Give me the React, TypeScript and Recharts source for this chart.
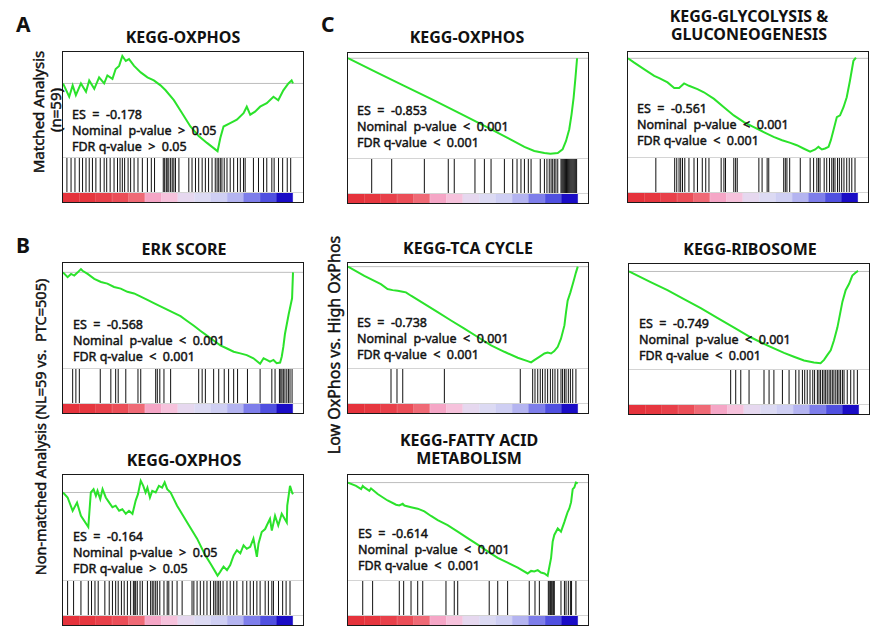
import React from 'react';
import {
  LineChart,
  Line,
  XAxis,
  YAxis,
  ReferenceLine,
  ScatterChart,
  Scatter,
  BarChart,
  Bar,
  Cell,
} from 'recharts';

// ---------- data (rank position in % of ranked list, running enrichment score) ----------

// A: Matched analysis, KEGG-OXPHOS
const aRank = [0, 2.7, 4.2, 5.6, 7.8, 10.0, 11.4, 13.6, 15.7, 17.9, 19.3, 21.5, 22.9, 24.4, 25.8, 27.3, 28.7, 30.9, 33.8, 36.7, 39.5, 42.4, 44.6, 48.2, 51.8, 55.4, 59.0, 62.6, 66.2, 67.2, 68.4, 69.8, 72.7, 75.6, 78.5, 79.9, 81.4, 83.5, 85.7, 88.6, 91.5, 93.6, 95.8, 98.0, 99.4, 100];
const aES = [0, -0.035, -0.005, -0.031, 0, -0.022, 0.008, -0.014, 0.016, 0, 0.021, 0.012, 0.038, 0.046, 0.072, 0.059, 0.064, 0.046, 0.029, 0.016, 0.008, -0.005, -0.018, -0.044, -0.078, -0.113, -0.138, -0.156, -0.173, -0.178, -0.143, -0.113, -0.104, -0.095, -0.078, -0.061, -0.082, -0.074, -0.061, -0.052, -0.035, -0.044, -0.018, 0, 0.008, 0];
const aHits = [1.7, 3.5, 5.2, 7.1, 8.5, 10.0, 11.4, 12.8, 14.3, 16.2, 17.9, 19.0, 20.5, 22.2, 23.7, 24.8, 25.8, 26.8, 28.3, 29.4, 30.9, 32.6, 34.5, 36.7, 38.4, 39.8, 43.6, 44.2, 44.9, 45.3, 46.0, 46.8, 47.5, 48.2, 48.9, 50.4, 54.7, 56.1, 57.6, 59.0, 60.5, 61.9, 63.3, 64.8, 66.2, 67.0, 67.7, 68.4, 69.1, 70.1, 71.3, 72.7, 74.2, 75.9, 77.1, 78.5, 79.2, 82.8, 85.0, 87.2, 88.6, 90.8, 91.8, 93.7, 95.5, 97.5, 99.0];

// B: ERK SCORE
const erkRank = [0, 2.0, 3.5, 4.9, 6.4, 7.8, 8.5, 10.7, 13.6, 16.5, 19.3, 22.2, 25.1, 28.0, 30.9, 33.8, 36.7, 39.5, 42.4, 45.3, 48.2, 51.1, 54.0, 56.9, 59.7, 62.6, 65.5, 68.4, 71.3, 74.2, 77.1, 79.9, 82.8, 85.7, 87.2, 88.6, 90.0, 91.5, 92.9, 94.4, 95.1, 95.8, 96.5, 97.3, 98.1, 99.0, 99.6, 100];
const erkES = [0, -0.030, -0.010, -0.020, 0, 0.020, 0.010, -0.010, -0.040, -0.060, -0.070, -0.091, -0.101, -0.121, -0.131, -0.151, -0.171, -0.191, -0.211, -0.232, -0.252, -0.272, -0.302, -0.332, -0.363, -0.393, -0.423, -0.453, -0.473, -0.493, -0.503, -0.514, -0.534, -0.568, -0.534, -0.544, -0.554, -0.544, -0.564, -0.560, -0.524, -0.463, -0.383, -0.322, -0.262, -0.201, -0.161, 0];
const erkHits = [4.2, 5.6, 7.1, 16.2, 20.8, 22.9, 24.0, 27.3, 32.6, 33.8, 40.3, 41.0, 42.1, 43.9, 46.8, 59.0, 60.5, 61.9, 65.5, 67.7, 70.1, 72.0, 74.2, 75.9, 80.2, 85.7, 90.8, 92.2, 94.1, 94.7, 95.2, 95.8, 96.5, 97.3, 98.0, 98.7, 99.6];

// B: Non-matched, KEGG-OXPHOS
const bRank = [0, 2.0, 4.2, 6.1, 7.8, 11.0, 12.1, 13.3, 14.3, 15.0, 16.2, 17.2, 18.6, 20.1, 21.5, 22.9, 24.4, 25.8, 27.3, 28.7, 30.2, 30.9, 31.6, 32.6, 33.8, 34.9, 35.9, 36.7, 37.8, 38.8, 40.3, 41.7, 43.1, 44.2, 45.3, 46.8, 49.6, 54.0, 58.3, 61.9, 64.1, 66.2, 67.2, 68.4, 69.8, 71.3, 72.7, 74.2, 75.6, 77.1, 78.5, 79.9, 81.4, 82.8, 84.3, 85.0, 86.4, 87.9, 88.6, 90.0, 90.8, 92.2, 93.6, 95.1, 97.3, 97.5, 98.1, 98.7, 99.6, 100];
const bES = [0, -0.0098, -0.036, -0.020, -0.046, -0.068, 0, 0.0065, -0.0065, 0.0033, -0.013, 0.0065, -0.0098, -0.020, -0.029, -0.026, -0.036, -0.033, -0.042, -0.036, -0.042, -0.029, -0.016, -0.0033, 0.023, 0.013, 0, 0.0098, -0.0098, 0.0033, 0, 0.013, 0.0098, 0.020, 0.0065, 0, -0.026, -0.059, -0.091, -0.124, -0.140, -0.156, -0.164, -0.156, -0.146, -0.153, -0.143, -0.124, -0.114, -0.120, -0.104, -0.111, -0.107, -0.091, -0.127, -0.101, -0.078, -0.072, -0.065, -0.052, -0.075, -0.046, -0.065, -0.042, -0.059, -0.026, -0.0065, 0.013, 0, -0.0033];
const bHits = [2.0, 4.6, 7.8, 11.0, 12.4, 13.9, 15.3, 18.2, 20.1, 21.5, 22.9, 24.0, 25.4, 26.6, 28.0, 29.4, 30.6, 31.2, 31.6, 32.3, 33.5, 34.5, 36.7, 38.1, 38.8, 39.5, 40.3, 41.0, 42.1, 43.9, 45.3, 46.0, 47.5, 49.6, 51.8, 56.1, 56.9, 58.3, 59.7, 61.2, 62.6, 64.1, 65.5, 66.2, 67.0, 67.7, 68.4, 69.6, 71.3, 72.7, 74.2, 75.6, 78.2, 79.9, 81.4, 82.8, 84.3, 85.7, 87.9, 89.3, 90.8, 91.5, 93.7, 95.5, 97.0, 98.7];

// C: KEGG-OXPHOS
const cOxRank = [0, 12, 24, 36.1, 48, 60, 70, 76.7, 81.0, 85.4, 88.0, 91.2, 93.3, 94.8, 96.2, 97.2, 98.1, 98.9, 99.6];
const cOxES = [0, -0.122, -0.243, -0.364, -0.487, -0.612, -0.718, -0.793, -0.829, -0.847, -0.853, -0.847, -0.814, -0.740, -0.635, -0.501, -0.352, -0.173, 0];
const cOxHits = [10.3, 19.0, 33.2, 43.6, 46.2, 55.2, 59.3, 62.2, 68.0, 71.6, 73.5, 75.2, 76.7, 78.4, 79.6, 83.6, 85.4, 86.5, 87.5, 88.3, 89.0, 89.7, 90.4, 91.2, 92.6, 93.0, 93.4, 93.8, 94.2, 94.6, 95.0, 95.4, 95.8, 96.2, 96.6, 97.0, 97.4, 97.8, 98.2, 98.6, 99.0, 99.4];

// C: KEGG-GLYCOLYSIS & GLUCONEOGENESIS
const glyRank = [0, 2.7, 7.1, 11.4, 13.6, 17.2, 20.1, 22.2, 24.4, 26.5, 30.2, 33.0, 37.4, 41.7, 46.0, 50.4, 54.7, 59.0, 63.3, 67.0, 70.6, 73.4, 76.3, 79.2, 81.4, 82.8, 84.3, 85.7, 87.2, 88.2, 89.3, 90.8, 92.2, 93.7, 95.1, 96.5, 98.0, 99.1];
const glyES = [0, -0.026, -0.066, -0.105, -0.119, -0.145, -0.179, -0.179, -0.151, -0.165, -0.185, -0.204, -0.244, -0.294, -0.343, -0.383, -0.413, -0.443, -0.472, -0.492, -0.508, -0.522, -0.542, -0.561, -0.548, -0.532, -0.548, -0.542, -0.532, -0.492, -0.433, -0.353, -0.343, -0.294, -0.234, -0.135, -0.016, 0.004];
const glyHits = [12.1, 20.3, 21.2, 22.2, 22.9, 23.7, 24.7, 26.5, 28.7, 30.2, 32.3, 33.8, 35.2, 40.5, 41.7, 42.4, 46.0, 46.8, 47.5, 56.9, 58.3, 60.5, 61.2, 67.7, 68.4, 69.1, 70.3, 74.9, 79.2, 80.7, 82.1, 82.8, 83.5, 85.3, 86.4, 87.6, 88.6, 89.3, 90.0, 91.1, 91.9, 92.9, 93.9, 95.1, 96.2, 97.3, 98.7];

// C: KEGG-TCA CYCLE
const tcaRank = [0, 7.1, 14.3, 17.2, 19.4, 21.6, 23.8, 25.2, 27.4, 33.2, 39.0, 44.8, 50.6, 56.4, 62.2, 68.0, 73.8, 78.1, 79.6, 81.0, 83.2, 85.4, 86.8, 88.3, 89.7, 91.2, 92.6, 94.1, 94.8, 95.5, 96.7, 97.7, 98.4, 99.1, 99.9];
const tcaES = [0, -0.071, -0.135, -0.173, -0.181, -0.186, -0.193, -0.198, -0.224, -0.287, -0.351, -0.415, -0.478, -0.542, -0.606, -0.656, -0.702, -0.728, -0.738, -0.720, -0.695, -0.669, -0.662, -0.669, -0.651, -0.618, -0.555, -0.453, -0.351, -0.262, -0.198, -0.135, -0.092, -0.046, 0];
const tcaHits = [18.7, 21.3, 23.8, 41.9, 74.9, 80.3, 81.3, 82.5, 83.6, 84.6, 85.7, 86.8, 88.0, 89.0, 90.0, 91.2, 92.6, 93.3, 94.1, 94.8, 95.8, 96.7, 97.7, 99.1];

// C: KEGG-RIBOSOME
const riboRank = [0, 9.4, 16.7, 23.9, 31.2, 38.4, 45.7, 52.9, 60.1, 67.4, 71.7, 76.1, 80.4, 83.3, 84.8, 86.2, 87.7, 89.1, 90.6, 91.7, 92.8, 94.2, 95.7, 97.1, 98.6, 99.6];
const riboES = [0, -0.087, -0.153, -0.225, -0.299, -0.378, -0.458, -0.537, -0.603, -0.664, -0.696, -0.727, -0.743, -0.749, -0.722, -0.683, -0.643, -0.563, -0.458, -0.352, -0.246, -0.153, -0.101, -0.034, -0.008, 0.005];
const riboHits = [44.2, 46.4, 48.6, 52.2, 58.7, 60.9, 63.0, 66.7, 69.6, 72.5, 73.9, 75.4, 76.4, 77.5, 78.7, 79.9, 80.7, 81.9, 82.6, 83.3, 84.1, 84.8, 85.5, 86.2, 87.0, 87.7, 88.4, 89.1, 89.9, 90.6, 91.3, 92.0, 92.8, 93.5, 94.9, 96.4, 97.8, 99.3];

// C: KEGG-FATTY ACID METABOLISM
const fatRank = [0, 3.5, 5.7, 6.4, 7.1, 9.3, 10.0, 10.7, 12.9, 17.2, 20.9, 22.3, 23.8, 24.5, 27.4, 30.3, 33.2, 36.1, 39.0, 43.3, 47.7, 52.0, 56.4, 60.7, 65.1, 69.4, 73.8, 78.1, 79.6, 81.0, 82.5, 83.9, 85.4, 86.8, 88.3, 89.0, 89.7, 91.2, 92.6, 94.1, 94.8, 95.5, 96.2, 97.0, 97.7, 98.4, 99.1, 99.9];
const fatES = [0, -0.022, -0.043, -0.022, -0.032, -0.054, -0.039, -0.047, -0.075, -0.118, -0.146, -0.151, -0.140, -0.151, -0.162, -0.172, -0.190, -0.220, -0.248, -0.280, -0.323, -0.366, -0.409, -0.453, -0.496, -0.528, -0.560, -0.599, -0.582, -0.586, -0.577, -0.593, -0.599, -0.614, -0.496, -0.388, -0.345, -0.302, -0.323, -0.259, -0.226, -0.194, -0.172, -0.129, -0.043, -0.032, 0, -0.004];
const fatHits = [6.4, 10.7, 22.3, 24.2, 27.4, 30.3, 32.5, 42.6, 46.2, 47.7, 61.4, 65.1, 69.4, 78.8, 81.3, 83.2, 87.1, 87.5, 88.0, 88.4, 88.8, 89.3, 89.7, 92.6, 94.1, 94.8, 95.8, 96.7, 97.2, 99.1];

// ranked-list metric colour bar (red -> white -> blue), equal-width blocks
const gradColors = ['#e5333c', '#e6373f', '#e8404a', '#eb4e58', '#ef6a76', '#f5a6c6', '#f6c2dc', '#e6d8ef', '#dcdaf3', '#cfcff3', '#b4b4f0', '#7e7eea', '#5050e0', '#1a0cc6'];

// ---------- layout ----------
const FONT = "'Noto Sans', 'DejaVu Sans', sans-serif";
const BOX_W = 242;
const BOX_H = 152;
const INNER_W = 240;
const PLOT_H = 105;
const HIT_H = 34;
const GRAD_H = 9;
const X_MAX = 104.35; // ranked list (0..100) ends ~10px before the box edge
const RIGHT_PAD = INNER_W - (INNER_W * 100) / X_MAX;
const GREEN = '#2be22b';

type PanelDef = {
  id: string;
  left: number;
  top: number;
  rank: number[];
  es: number[];
  hits: number[];
  yDomain: [number, number];
  title: string[];
  titleX: number;
  titleY: number[];
  stats: string[];
  statsX: number;
  statsY: number[];
};

const panels: PanelDef[] = [
  {
    id: 'a', left: 62, top: 51, rank: aRank, es: aES, hits: aHits, yDomain: [-0.193, 0.0825],
    title: ['KEGG-OXPHOS'], titleX: 183, titleY: [43],
    stats: ['ES  =  -0.178', 'Nominal  p-value  >  0.05', 'FDR q-value  >  0.05'], statsX: 72, statsY: [119, 135, 151],
  },
  {
    id: 'erk', left: 62, top: 262, rank: erkRank, es: erkES, hits: erkHits, yDomain: [-0.594, 0.058],
    title: ['ERK SCORE'], titleX: 184, titleY: [255],
    stats: ['ES  =  -0.568', 'Nominal  p-value  <  0.001', 'FDR q-value  <  0.001'], statsX: 73, statsY: [329, 345, 361],
  },
  {
    id: 'b', left: 62, top: 474, rank: bRank, es: bES, hits: bHits, yDomain: [-0.1725, 0.0345],
    title: ['KEGG-OXPHOS'], titleX: 184, titleY: [466],
    stats: ['ES  =  -0.164', 'Nominal  p-value  >  0.05', 'FDR q-value  >  0.05'], statsX: 73, statsY: [541, 557, 573],
  },
  {
    id: 'cox', left: 347, top: 52, rank: cOxRank, es: cOxES, hits: cOxHits, yDomain: [-0.892, 0.047],
    title: ['KEGG-OXPHOS'], titleX: 467, titleY: [43],
    stats: ['ES  =  -0.853', 'Nominal  p-value  <  0.001', 'FDR q-value  <  0.001'], statsX: 357, statsY: [115, 131, 147],
  },
  {
    id: 'tca', left: 347, top: 262, rank: tcaRank, es: tcaES, hits: tcaHits, yDomain: [-0.781, 0.028],
    title: ['KEGG-TCA CYCLE'], titleX: 468, titleY: [254],
    stats: ['ES  =  -0.738', 'Nominal  p-value  <  0.001', 'FDR q-value  <  0.001'], statsX: 357, statsY: [327, 343, 359],
  },
  {
    id: 'fat', left: 347, top: 474, rank: fatRank, es: fatES, hits: fatHits, yDomain: [-0.642, 0.05],
    title: ['KEGG-FATTY ACID', 'METABOLISM'], titleX: 469, titleY: [446, 464],
    stats: ['ES  =  -0.614', 'Nominal  p-value  <  0.001', 'FDR q-value  <  0.001'], statsX: 358, statsY: [538, 554, 570],
  },
  {
    id: 'gly', left: 627, top: 51, rank: glyRank, es: glyES, hits: glyHits, yDomain: [-0.593, 0.038],
    title: ['KEGG-GLYCOLYSIS &', 'GLUCONEOGENESIS'], titleX: 749, titleY: [22, 40],
    stats: ['ES  =  -0.561', 'Nominal  p-value  <  0.001', 'FDR q-value  <  0.001'], statsX: 637, statsY: [113, 129, 145],
  },
  {
    id: 'ribo', left: 628, top: 263, rank: riboRank, es: riboES, hits: riboHits, yDomain: [-0.796, 0.061],
    title: ['KEGG-RIBOSOME'], titleX: 750, titleY: [255],
    stats: ['ES  =  -0.749', 'Nominal  p-value  <  0.001', 'FDR q-value  <  0.001'], statsX: 639, statsY: [328, 344, 360],
  },
];

const HitTick = (props: any) => {
  const { cx, cy } = props;
  if (cx == null || cy == null) return null;
  return <line x1={cx} x2={cx} y1={cy - HIT_H / 2} y2={cy + HIT_H / 2} stroke="#111" strokeWidth={1} />;
};

const zeroMargin = { top: 0, right: 0, bottom: 0, left: 0 };

function Panel({ p }: { p: PanelDef }) {
  const rows = p.rank.map((x, i) => ({ x, es: p.es[i] }));
  const hitRows = p.hits.map((x) => ({ x, y: 0.5 }));
  const gradRows = gradColors.map((c, i) => ({ block: i, v: 1 }));
  return (
    <div
      style={{
        position: 'absolute',
        left: p.left,
        top: p.top,
        width: BOX_W,
        height: BOX_H,
        border: '1px solid #1a1a1a',
        boxSizing: 'border-box',
        background: '#fff',
      }}
    >
      <LineChart width={INNER_W} height={PLOT_H} data={rows} margin={zeroMargin}>
        <XAxis type="number" dataKey="x" domain={[0, X_MAX]} hide allowDataOverflow />
        <YAxis type="number" domain={p.yDomain} hide allowDataOverflow />
        <ReferenceLine y={0} stroke="#bdbdbd" strokeWidth={1} />
        <Line
          type="linear"
          dataKey="es"
          stroke={GREEN}
          strokeWidth={2}
          dot={false}
          isAnimationActive={false}
        />
      </LineChart>
      <div style={{ height: 1, background: '#d4d4d4' }} />
      <ScatterChart width={INNER_W} height={HIT_H} margin={zeroMargin}>
        <XAxis type="number" dataKey="x" domain={[0, X_MAX]} hide allowDataOverflow />
        <YAxis type="number" dataKey="y" domain={[0, 1]} hide />
        <Scatter data={hitRows} shape={HitTick} isAnimationActive={false} />
      </ScatterChart>
      <div style={{ height: 1, background: '#d4d4d4' }} />
      <BarChart
        width={INNER_W}
        height={GRAD_H}
        data={gradRows}
        margin={{ top: 0, right: RIGHT_PAD, bottom: 0, left: 0 }}
        barCategoryGap={0}
        barGap={0}
      >
        <XAxis type="category" dataKey="block" hide />
        <YAxis type="number" domain={[0, 1]} hide />
        <Bar dataKey="v" isAnimationActive={false}>
          {gradColors.map((c, i) => (
            <Cell key={i} fill={c} stroke={c} strokeWidth={0.6} />
          ))}
        </Bar>
      </BarChart>
    </div>
  );
}

// semi-bold look: regular glyphs with a thin outline of the same colour
const semi = { stroke: '#111', strokeWidth: 0.45, paintOrder: 'stroke' as const };

export default function App() {
  return (
    <div
      style={{
        position: 'absolute',
        left: 0,
        top: 0,
        width: 872,
        height: 627,
        background: '#fff',
        overflow: 'hidden',
        fontFamily: FONT,
      }}
    >
      {panels.map((p) => (
        <Panel key={p.id} p={p} />
      ))}
      <svg
        width={872}
        height={627}
        style={{ position: 'absolute', left: 0, top: 0, pointerEvents: 'none' }}
        fontFamily={FONT}
      >
        {/* panel letters */}
        <text x={16} y={32} fontSize={21} fontWeight={700} fill="#111">A</text>
        <text x={16} y={253} fontSize={21} fontWeight={700} fill="#111">B</text>
        <text x={321} y={32} fontSize={21} fontWeight={700} fill="#111">C</text>

        {/* row / column labels */}
        <text transform="translate(38,112) rotate(-90)" textAnchor="middle" dominantBaseline="central" fontSize={15} fill="#111" {...semi}>Matched Analysis</text>
        <text transform="translate(55,110) rotate(-90)" textAnchor="middle" dominantBaseline="central" fontSize={15} fill="#111" {...semi}>(n=59)</text>
        <text transform="translate(40,427) rotate(-90)" textAnchor="middle" dominantBaseline="central" fontSize={14.5} fill="#111" style={{ whiteSpace: 'pre' }} {...semi}>Non-matched Analysis (NL=59 vs.  PTC=505)</text>
        <text transform="translate(334,345) rotate(-90)" textAnchor="middle" dominantBaseline="central" fontSize={16} fill="#111" {...semi}>Low OxPhos vs. High OxPhos</text>

        {panels.map((p) => (
          <g key={p.id}>
            {p.title.map((t, i) => (
              <text key={'t' + i} x={p.titleX} y={p.titleY[i]} textAnchor="middle" fontSize={16} fontWeight={700} fill="#111">
                {t}
              </text>
            ))}
            {p.stats.map((s, i) => (
              <text key={'s' + i} x={p.statsX} y={p.statsY[i]} fontSize={12.5} fill="#111" style={{ whiteSpace: 'pre' }} {...semi}>
                {s}
              </text>
            ))}
          </g>
        ))}
      </svg>
    </div>
  );
}
